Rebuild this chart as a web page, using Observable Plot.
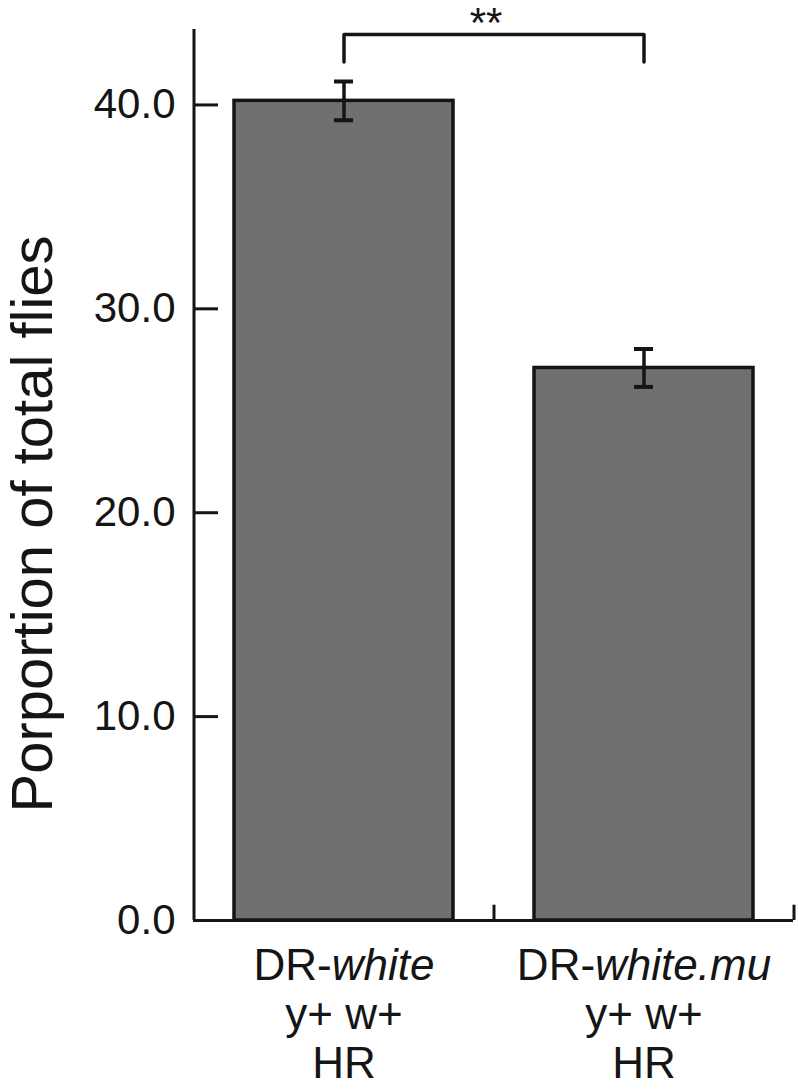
<!DOCTYPE html>
<html>
<head>
<meta charset="utf-8">
<script src="https://cdn.jsdelivr.net/npm/d3@7"></script>
<script src="https://cdn.jsdelivr.net/npm/@observablehq/plot@0.6"></script>
<style>
  html, body { margin: 0; padding: 0; background: #fff; }
</style>
</head>
<body>
<div id="chart"></div>
<script>
const categories = ["DR-white", "DR-white.mu"];
const labelPrefix = ["DR-", "DR-"];
const labelItalic = ["white", "white.mu"];
const labelLine2 = ["y+ w+", "y+ w+"];
const labelLine3 = ["HR", "HR"];
const means = [40.2, 27.1];
const sems = [0.95, 0.93];
const yTicks = [0, 10, 20, 30, 40];
const yMax = 43.7;
const yLabel = "Porportion of total flies";
const sigLabel = "**";
const bracketTop = 43.45;
const bracketEnd = 42.1;
const sigY = 44.0;
const boundaryTickTop = 0.75;

const rows = categories.map((c, i) => ({cat: c, mean: means[i], lo: means[i] - sems[i], hi: means[i] + sems[i]}));
const bracket = [
  {cat: categories[0], y: bracketEnd},
  {cat: categories[0], y: bracketTop},
  {cat: categories[1], y: bracketTop},
  {cat: categories[1], y: bracketEnd}
];

const W = 798, H = 1090, ML = 193, MR = 5, MT = 29, MB = 170;
const step = (W - ML - MR) / categories.length;
const ink = "#151515";

const chart = Plot.plot({
  width: W, height: H,
  marginLeft: ML, marginRight: MR, marginTop: MT, marginBottom: MB,
  x: {domain: categories, paddingInner: 0.27, paddingOuter: 0.135},
  y: {domain: [0, yMax]},
  style: {fontFamily: "'Liberation Sans', Arial, sans-serif", fontSize: "42px", color: ink, background: "#fff"},
  marks: [
    Plot.barY(rows, {x: "cat", y: "mean", fill: "#707070", stroke: ink, strokeWidth: 3.5}),
    Plot.ruleX(rows, {x: "cat", y1: "lo", y2: "hi", stroke: ink, strokeWidth: 3.5}),
    Plot.tickY(rows, {x: "cat", y: "lo", insetLeft: 100, insetRight: 100, stroke: ink, strokeWidth: 4}),
    Plot.tickY(rows, {x: "cat", y: "hi", insetLeft: 100, insetRight: 100, stroke: ink, strokeWidth: 4}),
    Plot.ruleY([0], {stroke: ink, strokeWidth: 3}),
    Plot.ruleX([categories[0]], {y1: 0, y2: yMax, dx: -step / 2, stroke: ink, strokeWidth: 3}),
    Plot.ruleY(yTicks.slice(1), {insetRight: (W - ML - MR) - 25, stroke: ink, strokeWidth: 3}),
    Plot.ruleX(categories, {y1: 0, y2: boundaryTickTop, dx: step / 2, stroke: ink, strokeWidth: 3}),
    Plot.line(bracket, {x: "cat", y: "y", stroke: ink, strokeWidth: 3.5}),
    Plot.text([{cat: categories[0], y: sigY, t: sigLabel}], {x: "cat", y: "y", text: "t", dx: step / 2 - 8, fontSize: 42, fill: ink}),
    Plot.text([yLabel], {frameAnchor: "left", textAnchor: "middle", rotate: -90, dx: -160, dy: 49, fontSize: 58, fill: ink}),
    Plot.axisY({ticks: yTicks, tickSize: 0, tickPadding: 18, tickFormat: d => d.toFixed(1), fontSize: 42, label: null}),
    Plot.axisX({
      tickSize: 0, tickPadding: 24, fontSize: 44, lineHeight: 1.12, label: null,
      tickFormat: d => {
        const i = categories.indexOf(d);
        return `${labelPrefix[i]}${labelItalic[i]}\n${labelLine2[i]}\n${labelLine3[i]}`;
      }
    })
  ]
});

// italicize the gene-name part of the first label line
chart.querySelectorAll('g[aria-label="x-axis tick label"] text').forEach(t => {
  const first = t.querySelector("tspan");
  if (!first) return;
  const i = categories.indexOf(first.textContent);
  if (i < 0) return;
  first.textContent = labelPrefix[i];
  const it = document.createElementNS("http://www.w3.org/2000/svg", "tspan");
  it.setAttribute("font-style", "italic");
  it.textContent = labelItalic[i];
  first.appendChild(it);
});

document.getElementById("chart").appendChild(chart);
</script>
</body>
</html>
